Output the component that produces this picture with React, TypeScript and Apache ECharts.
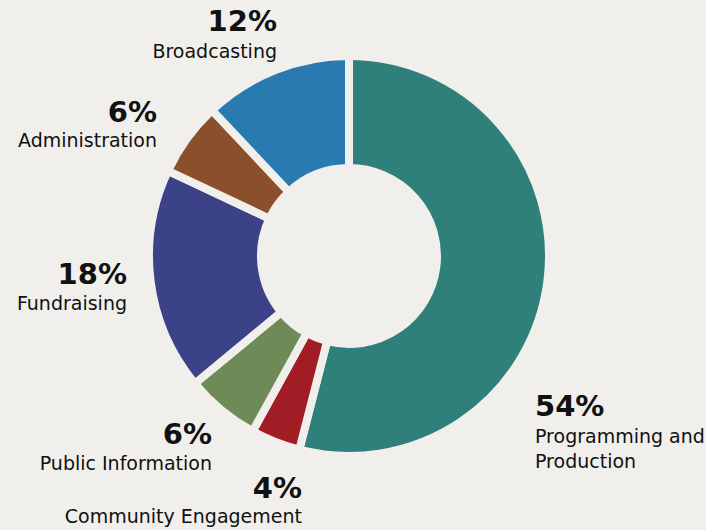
import React, { useEffect, useRef } from "react";
import * as echarts from "echarts";

const categories = [
  "Programming and\nProduction",
  "Community Engagement",
  "Public Information",
  "Fundraising",
  "Administration",
  "Broadcasting",
];
const values = [54, 4, 6, 18, 6, 12];
const colors = ["#2f7f7a", "#a11c24", "#6e8a57", "#3b4287", "#8b4f2b", "#2a7ab2"];

// label anchors: [x, pctMidY, nameMidY, align]
const labelAnchors: [number, number, number, "left" | "right"][] = [
  [535, 406, 436, "left"],
  [302, 488, 516, "right"],
  [212, 434, 463, "right"],
  [127, 274, 303, "right"],
  [157, 112, 140, "right"],
  [277, 21, 51, "right"],
];

const BG = "#f0efeb";

export default function App() {
  const ref = useRef<HTMLDivElement>(null);
  useEffect(() => {
    if (!ref.current) return;
    const chart = echarts.init(ref.current, undefined, { renderer: "svg" });
    const graphics: any[] = [];
    categories.forEach((name, i) => {
      const [x, py, ny, align] = labelAnchors[i];
      graphics.push({
        type: "text",
        x,
        y: py,
        style: {
          text: values[i] + "%",
          fill: "#111",
          font: "bold 29px 'DejaVu Sans'",
          align,
          verticalAlign: "middle",
        },
      });
      name.split("\n").forEach((line, j) => {
        graphics.push({
          type: "text",
          x,
          y: ny + j * 25,
          style: {
            text: line,
            fill: "#111",
            font: "19px 'DejaVu Sans'",
            align,
            verticalAlign: "middle",
          },
        });
      });
    });
    chart.setOption({
      animation: false,
      backgroundColor: BG,
      graphic: graphics,
      series: [
        {
          type: "pie",
          center: [349, 256],
          radius: [88, 200],
          startAngle: 90,
          clockwise: true,
          label: { show: false },
          labelLine: { show: false },
          emphasis: { disabled: true },
          itemStyle: { borderColor: BG, borderWidth: 8 },
          data: categories.map((c, i) => ({
            name: c,
            value: values[i],
            itemStyle: { color: colors[i] },
          })),
        },
      ],
    });
    return () => chart.dispose();
  }, []);
  return (
    <div
      ref={ref}
      style={{ position: "fixed", left: 0, top: 0, width: 706, height: 530 }}
    />
  );
}
